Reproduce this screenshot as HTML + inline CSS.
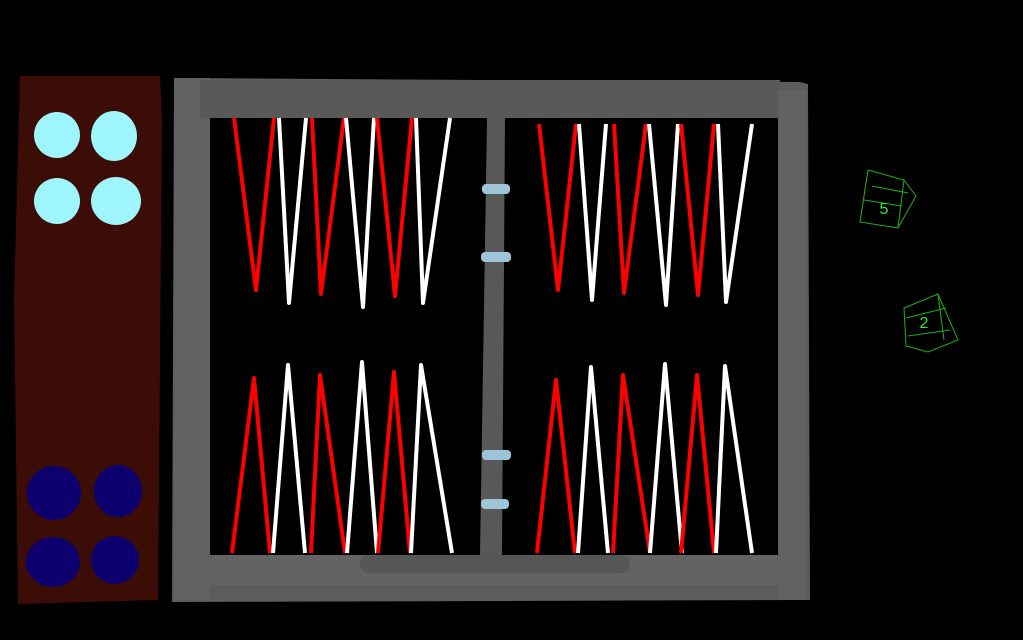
<!DOCTYPE html>
<html><head><meta charset="utf-8"><style>
html,body{margin:0;padding:0;background:#000;width:1023px;height:640px;overflow:hidden}
</style></head><body>
<svg width="1023" height="640" viewBox="0 0 1023 640" xmlns="http://www.w3.org/2000/svg">
<rect width="1023" height="640" fill="#000"/>
<!-- tray -->
<path d="M20,76 L160,76 L162,120 L158,600 L18,604 L14,300 Z" fill="#3c0c07"/>
<ellipse cx="57" cy="135" rx="23" ry="23" fill="#9ef6fc"/>
<ellipse cx="114" cy="136" rx="23" ry="25" fill="#9ef6fc"/>
<ellipse cx="57" cy="201" rx="23" ry="23" fill="#9ef6fc"/>
<ellipse cx="116" cy="201" rx="25" ry="24" fill="#9ef6fc"/>
<ellipse cx="54" cy="493" rx="27" ry="27" fill="#0d006e"/>
<ellipse cx="118" cy="491" rx="24" ry="26" fill="#0d006e"/>
<ellipse cx="53" cy="562" rx="27" ry="25" fill="#0d006e"/>
<ellipse cx="115" cy="560" rx="24" ry="24" fill="#0d006e"/>
<!-- frame -->
<path d="M174,78 L800,82 L808,84 L810,600 L172,602 Z" fill="#5c5c5c"/>
<rect x="174" y="78" width="36" height="522" fill="#616161"/>
<rect x="200" y="80" width="580" height="38" fill="#595959"/>
<rect x="210" y="118" width="568" height="437" fill="#000"/>
<rect x="210" y="555" width="570" height="30" fill="#636363"/>
<rect x="360" y="555" width="270" height="18" rx="9" fill="#565656"/>
<rect x="778" y="90" width="28" height="510" fill="#626262"/>
<!-- bar -->
<path d="M487,118 L505,118 L502,555 L480,555 Z" fill="#585858"/>
<g fill="#9cc5d8">
<rect x="482" y="184" width="28" height="10" rx="4"/>
<rect x="481" y="252" width="30" height="10" rx="4"/>
<rect x="482" y="450" width="29" height="10" rx="4"/>
<rect x="481" y="499" width="28" height="10" rx="4"/>
</g>
<g fill="none" stroke-width="4" stroke-linejoin="round">
<!-- top -->
<polyline stroke="#ff0000" points="234,118 256,290 274,118"/>
<polyline stroke="#fff" points="279,118 289,303 306,118"/>
<polyline stroke="#ff0000" points="312,118 321,294 344,118"/>
<polyline stroke="#fff" points="346,118 363,307 374,118"/>
<polyline stroke="#ff0000" points="377,118 395,296 412,118"/>
<polyline stroke="#fff" points="416,118 423,303 450,118"/>
<polyline stroke="#ff0000" points="539,124 558,290 576,124"/>
<polyline stroke="#fff" points="579,124 592,300 606,124"/>
<polyline stroke="#ff0000" points="614,124 624,293 646,124"/>
<polyline stroke="#fff" points="649,124 666,305 678,124"/>
<polyline stroke="#ff0000" points="681,124 698,295 714,124"/>
<polyline stroke="#fff" points="718,124 726,302 752,124"/>
<!-- bottom -->
<polyline stroke="#ff0000" points="232,553 254,378 270,553"/>
<polyline stroke="#fff" points="273,553 288,365 305,553"/>
<polyline stroke="#ff0000" points="311,553 320,375 345,553"/>
<polyline stroke="#fff" points="347,553 362,362 377,553"/>
<polyline stroke="#ff0000" points="378,553 394,372 410,553"/>
<polyline stroke="#fff" points="411,553 421,365 452,553"/>
<polyline stroke="#ff0000" points="537,553 556,380 575,553"/>
<polyline stroke="#fff" points="578,553 591,367 608,553"/>
<polyline stroke="#ff0000" points="613,553 623,375 650,553"/>
<polyline stroke="#fff" points="650,553 665,364 682,553"/>
<polyline stroke="#ff0000" points="681,553 697,375 714,553"/>
<polyline stroke="#fff" points="716,553 725,366 752,553"/>
</g>
<!-- dice -->
<g fill="none" stroke="#1fb01f" stroke-width="1">
<polygon points="868,170 904,180 916,196 898,228 860,222"/>
<line x1="872" y1="186" x2="908" y2="193"/>
<line x1="864" y1="200" x2="902" y2="206"/>
<line x1="904" y1="180" x2="898" y2="228"/>
<polygon points="904,308 938,294 958,340 928,352 906,346"/>
<line x1="906" y1="318" x2="946" y2="308"/>
<line x1="908" y1="336" x2="950" y2="330"/>
<line x1="938" y1="294" x2="944" y2="340"/>
</g>
<text x="884" y="214" font-family="Liberation Sans, sans-serif" font-size="16" fill="#2ee82e" text-anchor="middle">5</text>
<text x="924" y="328" font-family="Liberation Sans, sans-serif" font-size="16" fill="#2ee82e" text-anchor="middle">2</text>
</svg>
</body></html>
